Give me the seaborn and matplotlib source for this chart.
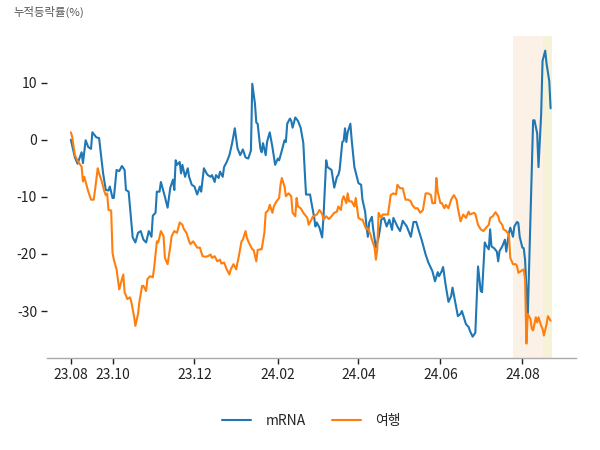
import pandas as pd
import matplotlib
matplotlib.use("Agg")
import matplotlib.pyplot as plt
import seaborn as sns

START = pd.Timestamp("2023-08-31")

# days since START and cumulative return (%)
mrna_days = [0, 3, 5, 8, 9, 11, 13, 15, 16, 19, 21, 24, 26, 28, 29, 31, 32, 34, 36, 38,
             40, 41, 43, 46, 48, 50, 52, 54, 56, 58, 60, 61, 63, 64, 66, 67, 70, 72, 74, 76,
             77, 78, 79, 81, 82, 83, 85, 87, 88, 90, 92, 94, 96, 97, 99, 101, 102, 104, 105, 107,
             108, 110, 111, 113, 114, 116, 118, 120, 122, 124, 126, 128, 130, 132, 134, 135, 137, 138, 139, 141,
             142, 143, 145, 146, 148, 150, 152, 154, 155, 157, 159, 160, 161, 163, 164, 165, 167, 169, 171, 173,
             174, 175, 178, 179, 181, 182, 183, 185, 187, 188, 190, 191, 194, 196, 198, 199, 200, 202, 203, 204,
             205, 206, 208, 209, 211, 213, 214, 216, 217, 219, 220, 221, 222, 224, 225, 227, 229, 230, 231, 233,
             235, 237, 239, 240, 243, 245, 247, 250, 253, 255, 257, 259, 261, 264, 266, 269, 271, 273, 274, 276,
             277, 279, 281, 283, 284, 286, 288, 290, 291, 294, 296, 297, 299, 301, 303, 305, 306, 308, 309, 311,
             312, 313, 315, 317, 318, 319, 321, 323, 324, 326, 327, 329, 330, 332, 333, 334, 336, 337, 338, 340,
             344, 345, 347, 348, 350, 351, 353, 354, 356, 357]
mrna_vals = [0.0, -3.1, -4.2, -2.2, -4.1, -0.1, -1.3, -1.6, 1.3, 0.4, 0.3, -5.9, -8.8, -8.9, -8.2, -10.2, -10.2, -5.3, -5.5, -4.6,
             -5.3, -8.8, -9.1, -17.1, -18.0, -16.3, -16.0, -17.5, -18.0, -16.0, -17.0, -13.3, -12.8, -9.1, -9.1, -7.4, -10.0, -11.9, -8.4, -7.0,
             -8.8, -3.6, -4.4, -3.9, -5.9, -4.4, -6.5, -5.0, -6.5, -7.9, -8.2, -9.6, -8.2, -9.1, -5.0, -5.9, -6.2, -6.5, -6.2, -7.4,
             -6.2, -6.7, -5.6, -6.5, -4.8, -3.9, -2.7, -0.6, 2.0, -1.5, -2.7, -1.7, -3.1, -3.3, -1.9, 9.8, 6.3, 3.0, 2.8, -1.5,
             -2.2, -0.6, -2.7, -0.4, 1.3, -1.3, -4.4, -3.3, -3.6, -1.9, -0.1, -0.4, 2.8, 3.7, 3.3, 2.1, 3.9, 3.3, 2.1, -0.6,
             -5.3, -9.6, -9.6, -11.0, -13.5, -15.2, -14.5, -15.4, -17.1, -13.5, -3.6, -4.8, -5.3, -8.4, -6.5, -6.2, -5.3, -0.4, -0.2, 2.0,
             -0.4, 1.3, 2.8, -0.1, -4.8, -6.7, -7.6, -7.9, -10.5, -12.6, -15.2, -17.0, -14.5, -13.5, -15.7, -18.9, -17.1, -15.7, -14.0, -13.7,
             -15.2, -14.0, -15.8, -13.7, -15.2, -16.0, -14.2, -15.2, -17.0, -14.4, -14.4, -16.0, -17.5, -20.1, -21.5, -23.0, -24.8, -23.2, -23.9, -23.0,
             -22.3, -25.6, -28.4, -27.4, -25.9, -28.4, -30.9, -30.5, -30.0, -32.3, -32.8, -33.5, -34.5, -33.8, -22.2, -26.5, -26.7, -18.0, -18.5, -19.2,
             -15.7, -18.7, -19.0, -19.6, -21.3, -19.5, -18.7, -17.5, -19.6, -16.3, -15.4, -17.0, -15.2, -14.4, -14.6, -17.0, -18.9, -19.0, -21.0, -31.0,
             3.4, 3.4, 1.1, -4.8, 4.6, 13.8, 15.6, 13.3, 10.3, 5.5]

travel_days = [0, 1, 3, 5, 7, 8, 9, 10, 12, 13, 15, 17, 18, 20, 21, 23, 25, 26, 27, 28,
               30, 31, 32, 34, 36, 37, 39, 40, 42, 44, 45, 47, 48, 50, 51, 53, 54, 56, 57, 59,
               61, 62, 64, 65, 67, 69, 70, 72, 74, 75, 77, 79, 81, 83, 84, 86, 88, 89, 91, 93,
               94, 96, 98, 100, 102, 104, 105, 107, 109, 111, 112, 114, 116, 118, 119, 121, 123, 125, 127, 128,
               130, 131, 133, 135, 136, 138, 139, 141, 142, 144, 145, 147, 148, 150, 151, 153, 155, 156, 157, 159,
               160, 162, 164, 165, 167, 168, 169, 171, 173, 175, 176, 177, 179, 180, 183, 185, 187, 188, 190, 192,
               194, 196, 198, 199, 201, 202, 203, 205, 206, 207, 209, 211, 212, 214, 216, 217, 219, 220, 221, 223,
               224, 226, 227, 228, 229, 231, 232, 234, 236, 238, 240, 242, 243, 245, 247, 249, 251, 253, 254, 256,
               258, 260, 262, 264, 266, 268, 269, 271, 272, 273, 275, 276, 278, 279, 281, 283, 285, 287, 288, 290,
               292, 294, 296, 297, 300, 301, 303, 305, 307, 309, 311, 312, 314, 316, 318, 319, 321, 322, 324, 326,
               327, 329, 331, 332, 333, 335, 337, 338, 339, 340, 342, 343, 344, 346, 347, 348, 350, 351, 352, 354,
               355, 357]
travel_vals = [1.3, 0.5, -2.7, -3.7, -4.4, -4.7, -7.3, -6.5, -8.2, -9.1, -10.5, -10.5, -8.8, -5.0, -5.9, -7.3, -9.1, -9.7, -9.4, -12.3,
               -12.4, -19.8, -21.0, -22.7, -26.2, -25.3, -23.6, -26.7, -27.9, -27.6, -28.4, -30.9, -32.6, -30.5, -28.4, -25.6, -25.6, -26.5, -24.4, -23.9,
               -24.1, -22.4, -17.8, -18.0, -16.0, -16.9, -20.7, -21.8, -18.7, -16.9, -16.0, -16.3, -14.5, -14.9, -15.6, -16.3, -17.8, -18.3, -17.8, -18.5,
               -18.9, -18.9, -20.4, -20.5, -20.4, -20.1, -20.7, -20.4, -21.3, -21.0, -21.7, -21.5, -22.7, -23.6, -22.7, -21.8, -22.7, -20.4, -17.8, -17.5,
               -16.0, -17.2, -18.3, -19.2, -19.3, -21.3, -19.3, -19.2, -19.2, -16.3, -12.8, -12.3, -11.4, -12.8, -11.7, -10.8, -10.2, -7.9, -6.7, -8.2,
               -9.9, -9.4, -9.9, -12.8, -13.4, -10.2, -11.7, -12.0, -12.8, -13.4, -13.7, -14.9, -14.0, -13.5, -13.1, -12.3, -13.0, -14.0, -13.4, -13.9,
               -13.4, -12.8, -12.6, -11.7, -12.3, -10.5, -9.9, -11.1, -9.4, -10.8, -10.8, -11.7, -10.2, -13.7, -14.0, -14.0, -15.2, -15.7, -15.5, -16.6,
               -17.5, -18.9, -21.0, -19.2, -12.8, -13.7, -13.1, -13.1, -13.1, -9.7, -9.4, -9.6, -7.9, -8.5, -8.5, -10.5, -10.5, -10.8, -11.4, -12.0,
               -12.0, -12.8, -12.3, -9.4, -9.4, -9.7, -11.1, -11.1, -6.7, -9.1, -11.1, -11.1, -12.0, -11.4, -12.0, -10.5, -9.7, -10.5, -12.0, -14.3,
               -13.1, -13.7, -12.6, -13.1, -12.8, -13.0, -14.9, -15.7, -16.0, -15.4, -14.9, -13.7, -13.4, -12.7, -13.4, -14.3, -14.9, -15.7, -16.0, -16.6,
               -20.7, -21.8, -21.8, -22.1, -23.3, -23.0, -22.7, -24.4, -35.7, -30.5, -31.4, -33.1, -33.4, -31.1, -32.0, -31.1, -32.6, -33.1, -34.3, -32.3,
               -30.9, -31.7]

series_names = ["mRNA", "여행"]
series_colors = ["#1f77b4", "#ff7f0e"]
tick_dates = ["2023-08-31", "2023-10-01", "2023-12-01", "2024-02-01",
              "2024-04-01", "2024-06-01", "2024-08-01"]
y_ticks = [-30, -20, -10, 0, 10]
spans = [("2024-07-25", "2024-08-16", "#fbf1e7"),
         ("2024-08-16", "2024-08-23", "#f6f2d8")]


def to_frame(days, vals, name):
    return pd.DataFrame({
        "date": START + pd.to_timedelta(days, unit="D"),
        "value": vals,
        "series": name,
    })


df = pd.concat([to_frame(mrna_days, mrna_vals, series_names[0]),
                to_frame(travel_days, travel_vals, series_names[1])],
               ignore_index=True)

sns.set_theme(style="white")
plt.rcParams["font.family"] = ["Noto Sans CJK KR", "DejaVu Sans"]

fig = plt.figure(figsize=(6, 4.5), dpi=100)
ax = fig.add_axes([0.078, 0.204, 0.882, 0.716])

for s, e, c in spans:
    ax.axvspan(pd.Timestamp(s), pd.Timestamp(e), color=c, lw=0, zorder=0)

sns.lineplot(data=df, x="date", y="value", hue="series", hue_order=series_names,
             palette=series_colors, estimator=None, sort=True, linewidth=1.5, ax=ax)

ticks = pd.to_datetime(tick_dates)
ax.set_xticks(ticks)
ax.set_xticklabels([t.strftime("%y.%m") for t in ticks], fontsize=10, color="#222222")
ax.set_yticks(y_ticks)
ax.set_yticklabels([str(v) for v in y_ticks], fontsize=10, color="#222222")
ax.tick_params(axis="both", left=True, bottom=True, length=4, width=1, color="#222222", pad=3)
ax.set_xlabel("")
ax.set_ylabel("")

sns.despine(ax=ax, left=True)
ax.spines["bottom"].set_color("#aaaaaa")
ax.spines["bottom"].set_linewidth(1)

ax.legend(loc="center", bbox_to_anchor=(0.5, -0.195), ncol=2, frameon=False,
          fontsize=10, handlelength=2.1, handletextpad=1.0, columnspacing=1.9)

fig.text(0.022, 0.973, "누적등락률(%)", fontsize=8.2, color="#555555", va="center", ha="left")

fig.savefig("out.png", dpi=100)
